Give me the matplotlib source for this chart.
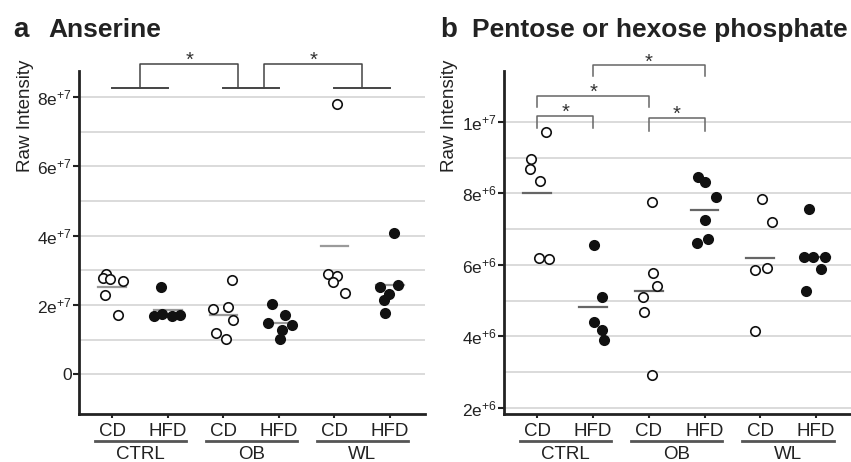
import numpy as np
import matplotlib
matplotlib.use('Agg')
from matplotlib import pyplot as plt

plt.rcParams['font.family'] = ['Liberation Sans', 'DejaVu Sans']
plt.rcParams['mathtext.fontset'] = 'custom'
plt.rcParams['mathtext.rm'] = 'Liberation Sans'
plt.rcParams['mathtext.default'] = 'regular'

groups = ['CTRL', 'OB', 'WL']
diets = ['CD', 'HFD', 'CD', 'HFD', 'CD', 'HFD']

# panel a: anserine, raw intensity in units of 1e7
anserine = [
    [2.91, 2.78, 2.74, 2.70, 2.30, 1.70],
    [2.52, 1.68, 1.73, 1.68, 1.72],
    [2.72, 1.88, 1.95, 1.56, 1.19, 1.03],
    [2.04, 1.71, 1.49, 1.42, 1.29, 1.03],
    [7.79, 2.91, 2.83, 2.67, 2.35],
    [4.07, 2.51, 2.59, 2.33, 2.16, 1.78],
]
anserine_ticks = [0, 2, 4, 6, 8]
anserine_ticklabels = ['0', '2e$^{+7}$', '4e$^{+7}$', '6e$^{+7}$', '8e$^{+7}$']

# panel b: pentose or hexose phosphate, raw intensity in units of 1e6
pentose = [
    [9.71, 8.96, 8.67, 8.35, 6.18, 6.16],
    [6.55, 5.09, 4.39, 4.18, 3.90],
    [7.75, 5.76, 5.40, 5.11, 4.69, 2.93],
    [8.46, 8.32, 7.89, 7.24, 6.72, 6.62],
    [7.84, 7.21, 5.86, 5.91, 4.14],
    [7.56, 6.21, 6.21, 6.21, 5.87, 5.27],
]
pentose_ticks = [2, 4, 6, 8, 10]
pentose_ticklabels = ['2e$^{+6}$', '4e$^{+6}$', '6e$^{+6}$', '8e$^{+6}$', '1e$^{+7}$']

# horizontal spread of the dots inside each column
anserine_jitter = [
    [-0.11, -0.16, -0.04, 0.20, -0.13, 0.11],
    [-0.12, -0.25, -0.10, 0.08, 0.21],
    [0.16, -0.18, 0.09, 0.18, -0.13, 0.05],
    [-0.12, 0.11, -0.19, 0.24, 0.06, 0.02],
    [0.05, -0.12, 0.05, -0.03, 0.19],
    [0.07, -0.18, 0.14, -0.02, -0.11, -0.09],
]
pentose_jitter = [
    [0.16, -0.11, -0.14, 0.05, 0.02, 0.20],
    [0.01, 0.16, 0.01, 0.16, 0.19],
    [0.06, 0.08, 0.15, -0.10, -0.09, 0.06],
    [-0.11, 0.00, 0.21, 0.01, 0.07, -0.13],
    [0.04, 0.21, -0.10, 0.13, -0.10],
    [-0.13, -0.22, -0.05, 0.16, 0.09, -0.18],
]

TXT = '#222222'


def draw_panel(ax, values, jitter, scale, mean_color, ylim, grid, ticks, ticklabels):
    for g in grid:
        ax.axhline(g * scale, color='#d4d4d4', lw=1.2, zorder=0)
    for i, (vals, dx) in enumerate(zip(values, jitter)):
        x = i + np.array(dx)
        y = np.array(vals) * scale
        face = '#111111' if diets[i] == 'HFD' else 'white'
        ax.plot(x, y, 'o', ms=6.8, mec='#111111', mfc=face, mew=1.2, zorder=3)
        m = np.mean(y)
        ax.plot([i - 0.25, i + 0.25], [m, m], color=mean_color, lw=1.6, zorder=2)

    ax.set_xlim(-0.6, 5.63)
    ax.set_ylim(ylim[0] * scale, ylim[1] * scale)
    ax.set_yticks(np.array(ticks) * scale)
    ax.set_yticklabels(ticklabels, fontsize=12.5, color=TXT)
    ax.set_xticks(range(6))
    ax.set_xticklabels(diets, fontsize=13.5, color=TXT)
    ax.tick_params(axis='y', length=4, width=1.5, pad=1, color='#222222')
    ax.tick_params(axis='x', length=3, width=1.5, pad=3.5, color='#222222')
    for s in ['top', 'right']:
        ax.spines[s].set_visible(False)
    for s in ['left', 'bottom']:
        ax.spines[s].set_linewidth(2)
        ax.spines[s].set_color('#222222')

    tr = ax.get_xaxis_transform()
    for j, g in enumerate(groups):
        c = 2 * j + 0.5
        ax.plot([c - 0.82, c + 0.82], [-0.08, -0.08], transform=tr,
                color='#555555', lw=2, clip_on=False)
        ax.text(c, -0.121, g, transform=tr, ha='center', va='center',
                fontsize=13.5, color=TXT)


def bracket(ax, x0, x1, ylow0, ylow1, ytop, color):
    ax.plot([x0, x0, x1, x1], [ylow0, ytop, ytop, ylow1], color=color,
            lw=1.1, clip_on=False, zorder=4)
    ax.annotate('*', xy=((x0 + x1) / 2, ytop), xytext=(0, -1.5),
                textcoords='offset points', ha='center', va='baseline',
                fontsize=14.5, color='#333333', annotation_clip=False)


fig = plt.figure(figsize=(8.51, 4.62), dpi=100)
ax_a = fig.add_axes([79 / 851, 1 - 413.5 / 462, 346 / 851, 342.5 / 462])
ax_b = fig.add_axes([504 / 851, 1 - 413.5 / 462, 347 / 851, 342.5 / 462])

draw_panel(ax_a, anserine, anserine_jitter, 1e7, '#9a9a9a',
           (-1.126, 8.75), range(0, 9), anserine_ticks, anserine_ticklabels)
draw_panel(ax_b, pentose, pentose_jitter, 1e6, '#666666',
           (1.84, 11.42), range(2, 11), pentose_ticks, pentose_ticklabels)

# significance brackets, panel a
for x0, x1 in [(0, 1), (2, 3), (4, 5)]:
    ax_a.plot([x0, x1], [8.27e7, 8.27e7], color='#444444', lw=1.4,
              clip_on=False, zorder=4)
bracket(ax_a, 0.5, 2.27, 8.27e7, 8.27e7, 8.96e7, '#444444')
bracket(ax_a, 2.73, 4.5, 8.27e7, 8.27e7, 8.96e7, '#444444')

# significance brackets, panel b
bracket(ax_b, 0, 1, 9.83e6, 9.83e6, 1.016e7, '#666666')
bracket(ax_b, 0, 2, 1.040e7, 1.040e7, 1.072e7, '#666666')
bracket(ax_b, 1, 3, 1.128e7, 1.128e7, 1.158e7, '#666666')
bracket(ax_b, 2, 3, 9.74e6, 9.74e6, 1.010e7, '#666666')

fig.text(25 / 851, 1 - 116 / 462, 'Raw Intensity', rotation=90, ha='center',
         va='center', fontsize=13.5, color=TXT)
fig.text(449 / 851, 1 - 116 / 462, 'Raw Intensity', rotation=90, ha='center',
         va='center', fontsize=13.5, color=TXT)

fig.text(13 / 851, 1 - 37 / 462, 'a', fontsize=20, fontweight='bold',
         va='baseline', color=TXT)
fig.text(48 / 851, 1 - 37 / 462, 'Anserine', fontsize=19, fontweight='bold',
         va='baseline', color=TXT)
fig.text(440 / 851, 1 - 37 / 462, 'b', fontsize=20, fontweight='bold',
         va='baseline', color=TXT)
fig.text(472 / 851, 1 - 37 / 462, 'Pentose or hexose phosphate', fontsize=19,
         fontweight='bold', va='baseline', color=TXT)

fig.savefig('out.png', dpi=100)
